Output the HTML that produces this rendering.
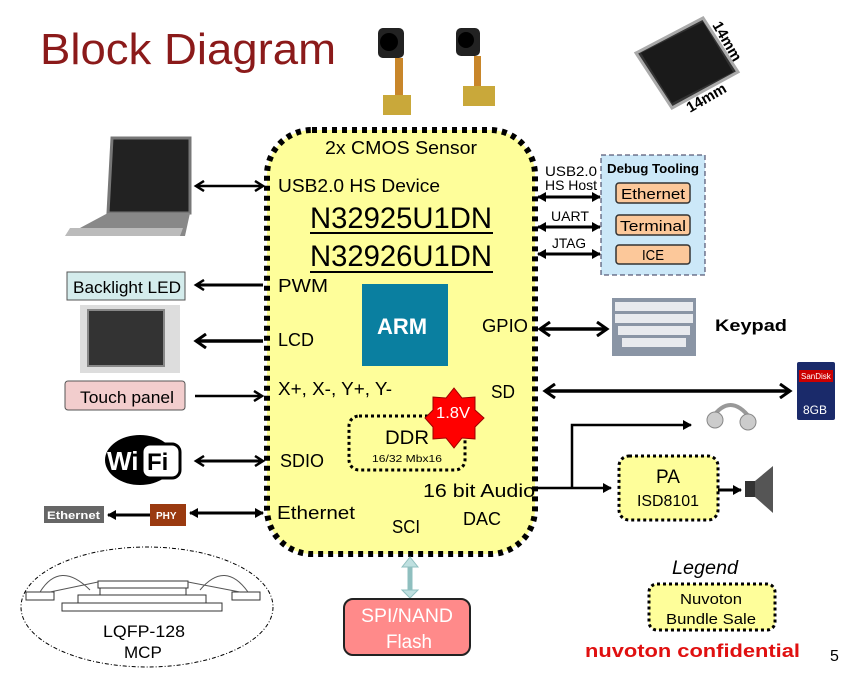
<!DOCTYPE html>
<html><head><meta charset="utf-8"><style>
body{margin:0;background:#fff}
svg{display:block}
text{font-family:"Liberation Sans",sans-serif}
</style></head><body>
<svg width="847" height="679" viewBox="0 0 847 679" xmlns="http://www.w3.org/2000/svg">
<defs>
<marker id="a" markerWidth="12" markerHeight="12" refX="9" refY="6" orient="auto-start-reverse" markerUnits="userSpaceOnUse"><path d="M1,1 L9,6 L1,11" fill="none" stroke="#000" stroke-width="2.5"/></marker>
<marker id="b" markerWidth="14" markerHeight="16" refX="11" refY="8" orient="auto-start-reverse" markerUnits="userSpaceOnUse"><path d="M1,1 L11,8 L1,15" fill="none" stroke="#000" stroke-width="3"/></marker>
<marker id="c" markerWidth="9" markerHeight="10" refX="8" refY="5" orient="auto-start-reverse" markerUnits="userSpaceOnUse"><path d="M0,0 L9,5 L0,10z" fill="#000"/></marker>
</defs>
<text x="40" y="64" font-size="44" fill="#8b1a1a" textLength="296" lengthAdjust="spacingAndGlyphs">Block Diagram</text>
<!-- cameras -->
<g><rect x="378" y="28" width="26" height="30" rx="5" fill="#222"/><circle cx="389" cy="42" r="9" fill="#000"/><rect x="395" y="58" width="8" height="40" fill="#c8862a"/><rect x="383" y="95" width="28" height="20" fill="#c9a83a"/></g>
<g><rect x="456" y="28" width="24" height="28" rx="5" fill="#222"/><circle cx="466" cy="40" r="8" fill="#000"/><rect x="474" y="56" width="7" height="32" fill="#c8862a"/><rect x="463" y="86" width="32" height="20" fill="#c9a83a"/></g>
<!-- chip -->
<polygon points="703,18 738,72 672,108 636,53" fill="#333" stroke="#aaa" stroke-width="3"/>
<polygon points="703,22 733,72 672,103 641,53" fill="#1a1a1a"/>
<text x="712" y="25" font-size="15" font-weight="bold" transform="rotate(60 712 25)">14mm</text>
<text x="690" y="113" font-size="15" font-weight="bold" transform="rotate(-30 690 113)">14mm</text>
<!-- laptop -->
<polygon points="112,138 190,138 190,213 108,213" fill="#222" stroke="#777" stroke-width="3"/>
<polygon points="108,213 190,213 185,236 65,236" fill="#888"/>
<polygon points="70,228 183,228 180,236 65,236" fill="#bbb"/>
<!-- main box -->
<rect x="267" y="130" width="268" height="424" rx="45" fill="#fefe9a" stroke="#000" stroke-width="6" stroke-dasharray="5,5"/>
<text x="325" y="154" font-size="18" textLength="152" lengthAdjust="spacingAndGlyphs">2x CMOS Sensor</text>
<text x="278" y="192" font-size="18" textLength="162" lengthAdjust="spacingAndGlyphs">USB2.0 HS Device</text>
<text x="310" y="228" font-size="30" textLength="182" lengthAdjust="spacingAndGlyphs">N32925U1DN</text>
<line x1="310" y1="233" x2="493" y2="233" stroke="#000" stroke-width="2"/>
<text x="310" y="266" font-size="30" textLength="182" lengthAdjust="spacingAndGlyphs">N32926U1DN</text>
<line x1="310" y1="272" x2="493" y2="272" stroke="#000" stroke-width="2"/>
<text x="278" y="292" font-size="18" textLength="50" lengthAdjust="spacingAndGlyphs">PWM</text>
<rect x="362" y="284" width="86" height="82" fill="#0a7fa0"/>
<text x="377" y="334" font-size="22" font-weight="bold" fill="#fff">ARM</text>
<text x="278" y="346" font-size="18" textLength="36" lengthAdjust="spacingAndGlyphs">LCD</text>
<text x="482" y="332" font-size="18" textLength="46" lengthAdjust="spacingAndGlyphs">GPIO</text>
<text x="278" y="395" font-size="18" textLength="114" lengthAdjust="spacingAndGlyphs">X+, X-, Y+, Y-</text>
<text x="491" y="398" font-size="18" textLength="24" lengthAdjust="spacingAndGlyphs">SD</text>
<rect x="349" y="416" width="116" height="54" rx="10" fill="none" stroke="#000" stroke-width="3" stroke-dasharray="3,3"/>
<text x="385" y="444" font-size="19" textLength="44" lengthAdjust="spacingAndGlyphs">DDR</text>
<text x="372" y="462" font-size="10" textLength="70" lengthAdjust="spacingAndGlyphs">16/32 Mbx16</text>
<polygon points="454,388 462,398 475,397 475,410 484,418 475,427 475,439 462,438 454,448 446,438 433,439 433,427 425,418 433,410 433,397 446,398" fill="#f00" stroke="#900"/>
<text x="436" y="418" font-size="16" fill="#fff" textLength="34" lengthAdjust="spacingAndGlyphs">1.8V</text>
<text x="280" y="467" font-size="18" textLength="44" lengthAdjust="spacingAndGlyphs">SDIO</text>
<text x="423" y="497" font-size="18" textLength="112" lengthAdjust="spacingAndGlyphs">16 bit Audio</text>
<text x="277" y="519" font-size="18" textLength="78" lengthAdjust="spacingAndGlyphs">Ethernet</text>
<text x="463" y="525" font-size="18" textLength="38" lengthAdjust="spacingAndGlyphs">DAC</text>
<text x="392" y="533" font-size="18" textLength="28" lengthAdjust="spacingAndGlyphs">SCI</text>
<!-- left side arrows -->
<line x1="196" y1="186" x2="263" y2="186" stroke="#000" stroke-width="2.5" marker-start="url(#a)" marker-end="url(#a)"/>
<rect x="67" y="272" width="118" height="28" fill="#d4ecec" stroke="#555"/>
<text x="73" y="293" font-size="17" textLength="108" lengthAdjust="spacingAndGlyphs">Backlight LED</text>
<line x1="263" y1="285" x2="196" y2="285" stroke="#000" stroke-width="3" marker-end="url(#a)"/>
<rect x="80" y="305" width="100" height="68" fill="#ddd"/>
<rect x="88" y="310" width="76" height="56" fill="#333" stroke="#888" stroke-width="2"/>
<line x1="263" y1="341" x2="196" y2="341" stroke="#000" stroke-width="3.5" marker-end="url(#b)"/>
<rect x="65" y="381" width="120" height="29" rx="3" fill="#f2cdcd" stroke="#555"/>
<text x="80" y="403" font-size="17" textLength="94" lengthAdjust="spacingAndGlyphs">Touch panel</text>
<line x1="195" y1="396" x2="262" y2="396" stroke="#000" stroke-width="2.5" marker-end="url(#a)"/>
<ellipse cx="140" cy="460" rx="35" ry="25" fill="#000"/>
<text x="107" y="470" font-size="26" font-weight="bold" fill="#fff">Wi</text>
<rect x="142" y="444" width="38" height="34" rx="8" fill="#fff" stroke="#000" stroke-width="3"/>
<text x="147" y="470" font-size="24" font-weight="bold">Fi</text>
<line x1="196" y1="461" x2="263" y2="461" stroke="#000" stroke-width="3" marker-start="url(#a)" marker-end="url(#a)"/>
<rect x="44" y="506" width="60" height="17" fill="#666"/>
<text x="47" y="519" font-size="11" font-weight="bold" fill="#fff" textLength="53" lengthAdjust="spacingAndGlyphs">Ethernet</text>
<line x1="150" y1="515" x2="108" y2="515" stroke="#000" stroke-width="3" marker-end="url(#c)"/>
<rect x="150" y="504" width="36" height="22" fill="#9a3a10"/>
<text x="156" y="519" font-size="10" font-weight="bold" fill="#fff">PHY</text>
<line x1="190" y1="513" x2="263" y2="513" stroke="#000" stroke-width="3" marker-start="url(#c)" marker-end="url(#c)"/>
<!-- MCP ellipse -->
<ellipse cx="147" cy="607" rx="126" ry="60" fill="none" stroke="#000" stroke-dasharray="4,2,1,2"/>
<rect x="62" y="603" width="160" height="8" fill="#fff" stroke="#333"/>
<rect x="78" y="595" width="128" height="8" fill="#fff" stroke="#333"/>
<rect x="100" y="588" width="86" height="7" fill="#fff" stroke="#333"/>
<rect x="98" y="581" width="90" height="7" fill="#fff" stroke="#333"/>
<rect x="26" y="592" width="28" height="8" fill="#fff" stroke="#333"/><rect x="232" y="592" width="28" height="8" fill="#fff" stroke="#333"/>
<path d="M40,592 Q60,560 90,590 M248,592 Q225,560 200,590 M50,592 L98,582 M240,592 L188,582" fill="none" stroke="#555"/>
<text x="103" y="637" font-size="17" textLength="82" lengthAdjust="spacingAndGlyphs">LQFP-128</text>
<text x="124" y="658" font-size="17">MCP</text>
<!-- flash -->
<line x1="410" y1="562" x2="410" y2="592" stroke="#8fbfbf" stroke-width="5"/>
<polygon points="402,567 410,557 418,567" fill="#bfe0e0" stroke="#8fbfbf"/>
<polygon points="402,590 410,598 418,590" fill="#bfe0e0" stroke="#8fbfbf"/>
<rect x="344" y="599" width="126" height="56" rx="9" fill="#ff8a8a" stroke="#222" stroke-width="2"/>
<text x="361" y="622" font-size="19" fill="#fff" textLength="92" lengthAdjust="spacingAndGlyphs">SPI/NAND</text>
<text x="386" y="648" font-size="19" fill="#fff" textLength="46" lengthAdjust="spacingAndGlyphs">Flash</text>
<!-- debug -->
<text x="545" y="176" font-size="14" textLength="52" lengthAdjust="spacingAndGlyphs">USB2.0</text>
<text x="545" y="190" font-size="14" textLength="52" lengthAdjust="spacingAndGlyphs">HS Host</text>
<text x="551" y="221" font-size="14" textLength="38" lengthAdjust="spacingAndGlyphs">UART</text>
<text x="552" y="248" font-size="14" textLength="34" lengthAdjust="spacingAndGlyphs">JTAG</text>
<line x1="538" y1="197" x2="600" y2="197" stroke="#000" stroke-width="3" marker-start="url(#c)" marker-end="url(#c)"/>
<line x1="538" y1="227" x2="600" y2="227" stroke="#000" stroke-width="3" marker-start="url(#c)" marker-end="url(#c)"/>
<line x1="538" y1="254" x2="600" y2="254" stroke="#000" stroke-width="3" marker-start="url(#c)" marker-end="url(#c)"/>
<rect x="601" y="155" width="104" height="120" fill="#cce8f8" stroke="#335" stroke-dasharray="5,3"/>
<text x="607" y="173" font-size="13" font-weight="bold" textLength="92" lengthAdjust="spacingAndGlyphs">Debug Tooling</text>
<rect x="616" y="183" width="74" height="20" rx="3" fill="#fcc89a" stroke="#333" stroke-width="1.5"/>
<text x="621" y="199" font-size="15" textLength="64" lengthAdjust="spacingAndGlyphs">Ethernet</text>
<rect x="616" y="215" width="74" height="20" rx="3" fill="#fcc89a" stroke="#333" stroke-width="1.5"/>
<text x="620" y="231" font-size="15" textLength="66" lengthAdjust="spacingAndGlyphs">Terminal</text>
<rect x="616" y="245" width="74" height="19" rx="3" fill="#fcc89a" stroke="#333" stroke-width="1.5"/>
<text x="642" y="260" font-size="15" textLength="22" lengthAdjust="spacingAndGlyphs">ICE</text>
<!-- keypad -->
<line x1="540" y1="329" x2="607" y2="329" stroke="#000" stroke-width="3.5" marker-start="url(#b)" marker-end="url(#b)"/>
<rect x="612" y="298" width="84" height="58" fill="#8a95a5"/>
<g fill="#e8eaee"><rect x="615" y="302" width="78" height="9"/><rect x="615" y="314" width="78" height="9"/><rect x="618" y="326" width="72" height="9"/><rect x="622" y="338" width="64" height="9"/></g>
<text x="715" y="331" font-size="17" font-weight="bold" textLength="72" lengthAdjust="spacingAndGlyphs">Keypad</text>
<!-- SD -->
<line x1="545" y1="391" x2="790" y2="391" stroke="#000" stroke-width="3.5" marker-start="url(#b)" marker-end="url(#b)"/>
<rect x="797" y="362" width="38" height="58" rx="2" fill="#1a2a6a"/>
<rect x="799" y="370" width="34" height="12" fill="#c00"/>
<text x="801" y="379" font-size="8" fill="#fff">SanDisk</text>
<text x="803" y="414" font-size="12" fill="#fff">8GB</text>
<!-- headphones -->
<path d="M712,418 Q730,392 750,418" fill="none" stroke="#999" stroke-width="4"/>
<circle cx="715" cy="420" r="8" fill="#ccc" stroke="#888"/><circle cx="748" cy="422" r="8" fill="#ccc" stroke="#888"/>
<!-- audio -->
<polyline points="538,488 611,488" fill="none" stroke="#000" stroke-width="2.5" marker-end="url(#c)"/>
<polyline points="572,488 572,425 691,425" fill="none" stroke="#000" stroke-width="2.5" marker-end="url(#c)"/>
<rect x="619" y="456" width="99" height="64" rx="10" fill="#fefe9a" stroke="#000" stroke-width="3" stroke-dasharray="3,3"/>
<text x="656" y="483" font-size="19">PA</text>
<text x="637" y="506" font-size="16" textLength="62" lengthAdjust="spacingAndGlyphs">ISD8101</text>
<line x1="718" y1="490" x2="741" y2="490" stroke="#000" stroke-width="3" marker-end="url(#c)"/>
<rect x="745" y="481" width="10" height="16" fill="#333"/>
<polygon points="755,481 773,466 773,513 755,497" fill="#555"/>
<!-- legend -->
<text x="672" y="574" font-size="19" font-style="italic" textLength="66" lengthAdjust="spacingAndGlyphs">Legend</text>
<rect x="649" y="584" width="126" height="46" rx="8" fill="#fefe9a" stroke="#000" stroke-width="3" stroke-dasharray="3,3"/>
<text x="680" y="604" font-size="15" textLength="62" lengthAdjust="spacingAndGlyphs">Nuvoton</text>
<text x="666" y="624" font-size="15" textLength="90" lengthAdjust="spacingAndGlyphs">Bundle  Sale</text>
<text x="585" y="657" font-size="18" font-weight="bold" fill="#e01010" textLength="215" lengthAdjust="spacingAndGlyphs">nuvoton confidential</text>
<text x="830" y="661" font-size="16">5</text>
</svg>
</body></html>
